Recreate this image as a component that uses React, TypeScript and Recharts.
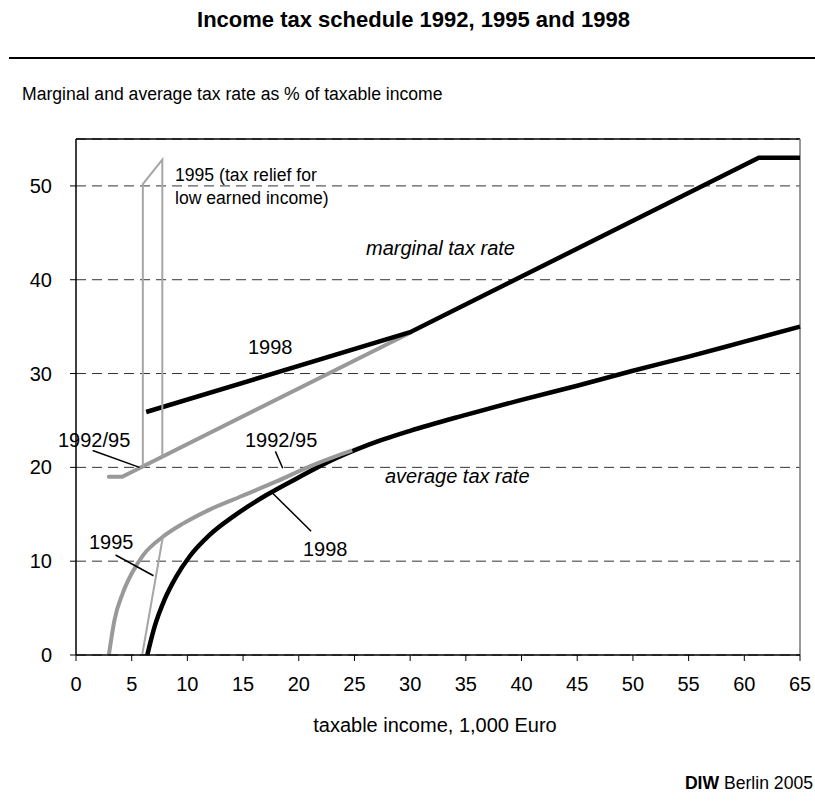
import React from 'react';
import { LineChart, Line, XAxis, YAxis, CartesianGrid, ReferenceLine } from 'recharts';

const xTicks = [0, 5, 10, 15, 20, 25, 30, 35, 40, 45, 50, 55, 60, 65];
const yTicks = [0, 10, 20, 30, 40, 50];

// marginal tax rate
const marginal1998X = [6.3, 30, 61.3, 65];
const marginal1998Y = [25.9, 34.4, 53, 53];
const marginal9295X = [2.95, 4.15, 30];
const marginal9295Y = [19, 19, 34.35];
// 1995 tax relief for low earned income
const relief1995X = [6.0, 6.0, 7.75, 7.75];
const relief1995Y = [20.1, 50.2, 52.8, 21.1];

// average tax rate
const avg9295X = [2.95, 3.45, 4.2, 5.1, 6.0, 7.8, 9.6, 12.0, 15.0, 18.0, 21.0, 23.6, 24.8];
const avg9295Y = [0, 3.7, 6.6, 8.9, 10.6, 12.6, 14.0, 15.5, 17.0, 18.5, 20.1, 21.3, 21.8];
const avg1998X = [6.4, 7.05, 7.95, 9.0, 10.2, 12.0, 14.1, 17.1, 20.1, 23.0, 26.0, 30, 35, 40, 45, 50, 55, 60, 65];
const avg1998Y = [0, 3.0, 5.9, 8.35, 10.5, 12.8, 14.75, 17.05, 19.0, 20.8, 22.3, 23.9, 25.6, 27.2, 28.7, 30.3, 31.8, 33.4, 35.0];
const avg1995X = [5.94, 7.8];
const avg1995Y = [0, 12.6];

const toPoints = (xs: number[], ys: number[]) => xs.map((x, i) => ({ x, y: ys[i] }));

const FONT = '"Liberation Sans", Arial, Helvetica, sans-serif';

type LabelProps = {
  left: number;
  cy: number;
  size: number;
  italic?: boolean;
  bold?: boolean;
  children: React.ReactNode;
};

// cy is the vertical centre of the capitals
const Label = ({ left, cy, size, italic, bold, children }: LabelProps) => (
  <div
    style={{
      position: 'absolute',
      left,
      top: cy - 0.49 * size,
      fontSize: size,
      lineHeight: 1,
      whiteSpace: 'nowrap',
      fontStyle: italic ? 'italic' : 'normal',
      fontWeight: bold ? 'bold' : 'normal',
    }}
  >
    {children}
  </div>
);

const leader = (x1: number, y1: number, x2: number, y2: number) => (
  <ReferenceLine
    key={`l-${x1}-${y1}`}
    segment={[{ x: x1, y: y1 }, { x: x2, y: y2 }]}
    stroke="#000"
    strokeWidth={1.5}
  />
);

const App: React.FC = () => {
  const lineBase = { dataKey: 'y', dot: false, activeDot: false, isAnimationActive: false, type: 'linear' as const };

  return (
    <div
      style={{
        position: 'absolute',
        left: 0,
        top: 0,
        width: 815,
        height: 805,
        background: '#fff',
        color: '#000',
        fontFamily: FONT,
      }}
    >
      <LineChart
        width={815}
        height={805}
        margin={{ top: 139, right: 15, bottom: 110, left: 16 }}
        style={{ position: 'absolute', left: 0, top: 0 }}
      >
        <CartesianGrid vertical={false} stroke="#333" strokeDasharray="10 6" />
        <XAxis
          dataKey="x"
          type="number"
          domain={[0, 65]}
          ticks={xTicks}
          interval={0}
          height={40}
          tickSize={6}
          tickMargin={16}
          axisLine={{ stroke: '#000', strokeWidth: 1.5 }}
          tickLine={{ stroke: '#000' }}
          tick={{ fontSize: 20, fill: '#000', fontFamily: FONT }}
        />
        <YAxis
          type="number"
          domain={[0, 55]}
          ticks={yTicks}
          interval={0}
          width={60}
          tickSize={6}
          tickMargin={18}
          axisLine={{ stroke: '#000', strokeWidth: 1.5 }}
          tickLine={{ stroke: '#000' }}
          tick={{ fontSize: 20, fill: '#000', fontFamily: FONT }}
        />
        <ReferenceLine y={55} stroke="#000" strokeWidth={1.5} />
        <ReferenceLine x={65} stroke="#777" strokeWidth={1.5} />

        <Line {...lineBase} data={toPoints(marginal9295X, marginal9295Y)} stroke="#999" strokeWidth={4} strokeLinecap="round" />
        <Line {...lineBase} data={toPoints(marginal1998X, marginal1998Y)} stroke="#000" strokeWidth={4.5} />
        <Line {...lineBase} data={toPoints(avg1998X, avg1998Y)} type="monotone" stroke="#000" strokeWidth={4.5} />
        <Line {...lineBase} data={toPoints(avg9295X, avg9295Y)} type="monotone" stroke="#999" strokeWidth={4} />
        <Line {...lineBase} data={toPoints(relief1995X, relief1995Y)} stroke="#a6a6a6" strokeWidth={2} />
        <Line {...lineBase} data={toPoints(avg1995X, avg1995Y)} stroke="#a6a6a6" strokeWidth={2} />

        {leader(1.5, 21.8, 5.7, 20.0)}
        {leader(17.9, 21.7, 18.56, 19.9)}
        {leader(3.55, 10.66, 6.96, 8.45)}
        {leader(17.52, 17.4, 21.11, 13.2)}
      </LineChart>

      <div
        style={{
          position: 'absolute',
          left: 0,
          width: 827,
          top: 9,
          textAlign: 'center',
          fontSize: 22,
          lineHeight: 1,
          fontWeight: 'bold',
        }}
      >
        Income tax schedule 1992, 1995 and 1998
      </div>
      <div style={{ position: 'absolute', left: 9, right: 0, top: 57, height: 2, background: '#000' }} />
      <Label left={22} cy={95} size={17.6}>
        Marginal and average tax rate as % of taxable income
      </Label>

      <Label left={175} cy={176} size={17.6}>1995 (tax relief for</Label>
      <Label left={175} cy={199} size={17.6}>low earned income)</Label>
      <Label left={366} cy={248} size={20} italic>marginal tax rate</Label>
      <Label left={248} cy={347} size={20}>1998</Label>
      <Label left={58} cy={440} size={20}>1992/95</Label>
      <Label left={245} cy={440} size={20}>1992/95</Label>
      <Label left={385} cy={476} size={20} italic>average tax rate</Label>
      <Label left={89} cy={542} size={20}>1995</Label>
      <Label left={303} cy={549} size={20}>1998</Label>

      <div
        style={{
          position: 'absolute',
          left: 0,
          width: 870,
          top: 714.7,
          textAlign: 'center',
          fontSize: 20,
          lineHeight: 1,
        }}
      >
        taxable income, 1,000 Euro
      </div>
      <div
        style={{
          position: 'absolute',
          right: 2,
          top: 775,
          fontSize: 17.6,
          lineHeight: 1,
          whiteSpace: 'nowrap',
        }}
      >
        <b>DIW</b> Berlin 2005
      </div>
    </div>
  );
};

export default App;
